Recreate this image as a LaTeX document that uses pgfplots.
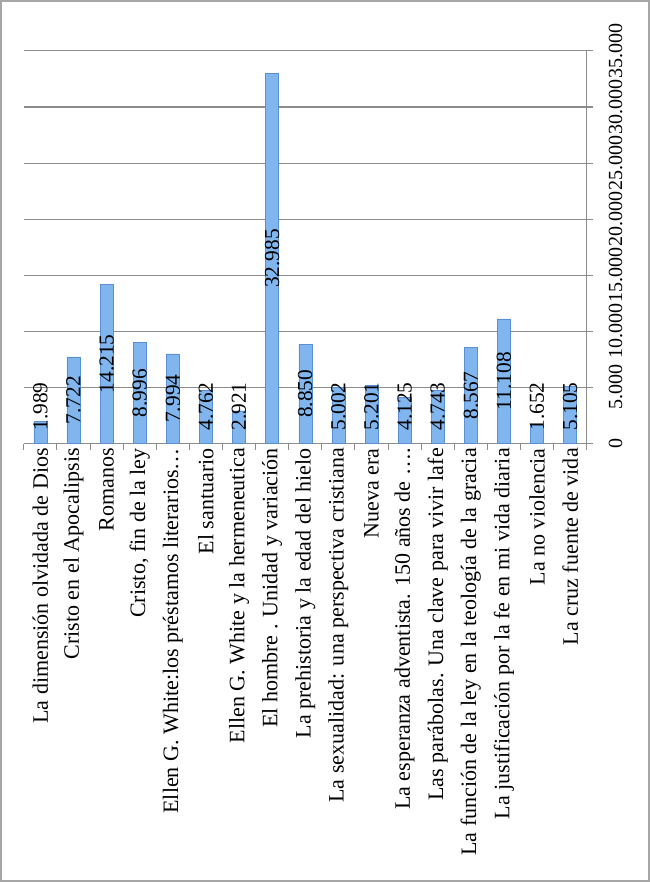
\documentclass[border=0pt]{standalone}
\usepackage{pgfplots}
\pgfplotsset{compat=1.18}
\usepackage{fontspec}
\setmainfont{Liberation Serif}

\definecolor{barM}{HTML}{80B5EE}
\definecolor{barE}{HTML}{5A8FD3}
\definecolor{gridc}{HTML}{8C8C8C}
\definecolor{framec}{HTML}{A6A6A6}

\begin{document}
\begin{tikzpicture}
\begin{axis}[
    at={(0,0)}, anchor=south west,
    scale only axis,
    width=421.5pt, height=294pt,
    ybar, bar width=9.75pt,
    xmin=-0.5, xmax=16.5,
    ymin=0, ymax=35000,
    axis x line*=bottom,
    axis y line*=right,
    axis line style={gridc, line width=0.8pt},
    xtick={0,...,16},
    xticklabels={
        {La dimensión olvidada de Dios},
        {Cristo en el Apocalipsis},
        {Romanos},
        {Cristo, fin de la ley},
        {Ellen G. White:los préstamos literarios…},
        {El santuario},
        {Ellen G. White y la hermeneutica},
        {El hombre . Unidad y variación},
        {La prehistoria y la edad del hielo},
        {La sexualidad: una perspectiva cristiana},
        {Nueva era},
        {La esperanza adventista. 150 años de ….},
        {Las parábolas. Una clave para vivir lafe},
        {La función de la ley en la teología de la gracia},
        {La justificación por la fe en mi vida diaria},
        {La no violencia},
        {La cruz fuente de vida}},
    minor xtick={-0.5,0.5,...,16.5},
    ytick={0,5000,...,35000},
    minor ytick={0,5000,...,35000},
    major tick length=0pt,
    minor tick length=4.5pt,
    tick align=outside,
    minor tick style={gridc, line width=0.8pt},
    ymajorgrids=true,
    grid style={gridc, line width=0.8pt},
    scaled y ticks=false,
    /pgf/number format/.cd, 1000 sep={.}, assume math mode=true,
    /pgfplots/.cd,
    xticklabel style={rotate=90, anchor=east,
        font=\fontsize{16.5}{18}\selectfont},
    yticklabel style={rotate=90, anchor=north, yshift=-13pt,
        font=\fontsize{15}{17}\selectfont},
    nodes near coords,
    visualization depends on={y \as \rawy},
    every node near coord/.append style={
        shift={(axis direction cs:0,{-min(\rawy/2,\rawy-3300)})},
        rotate=90, anchor=center,
        font=\fontsize{16}{18}\selectfont},
]
\addplot[fill=barM, draw=barE, line width=0.3pt] coordinates {
    (0,1989)
    (1,7722)
    (2,14215)
    (3,8996)
    (4,7994)
    (5,4762)
    (6,2921)
    (7,32985)
    (8,8850)
    (9,5002)
    (10,5201)
    (11,4125)
    (12,4743)
    (13,8567)
    (14,11108)
    (15,1652)
    (16,5105)
};
\end{axis}
\draw[framec, line width=1.2pt] (-17.25pt,-327.75pt) rectangle (468pt,331.5pt);
\end{tikzpicture}
\end{document}
